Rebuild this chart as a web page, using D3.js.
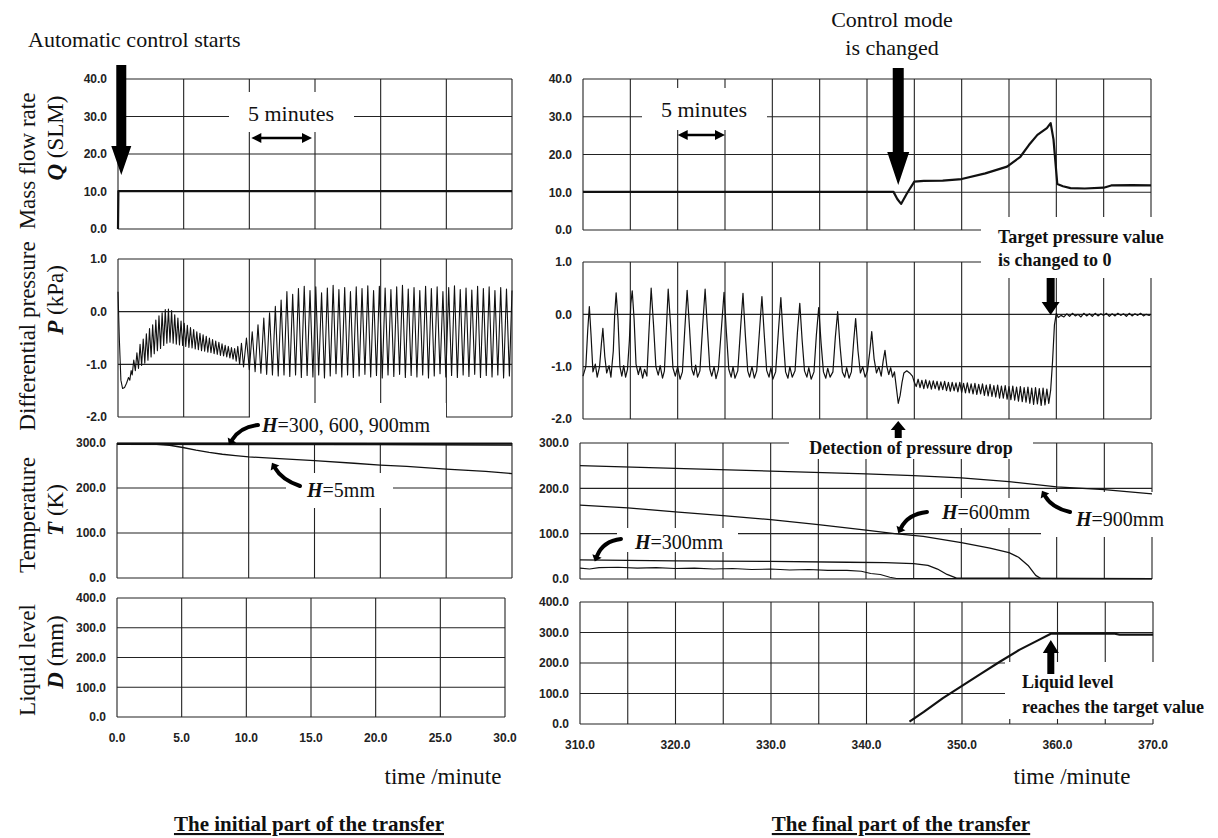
<!DOCTYPE html>
<html>
<head>
<meta charset="utf-8">
<script src="https://cdn.jsdelivr.net/npm/d3@7"></script>
<style>
  body { margin: 0; background: #fff; }
  svg { display: block; }
</style>
</head>
<body>
<svg id="chart" width="1218" height="838"></svg>
<script>
// ---------- data ----------
let leftTimeTicks = [0, 5, 10, 15, 20, 25, 30];
let rightTimeGrid = [310, 315, 320, 325, 330, 335, 340, 345, 350, 355, 360, 365, 370];
let rightTimeLabels = [310, 320, 330, 340, 350, 360, 370];
let qTicks = [0, 10, 20, 30, 40];
let pTicks = [-2, -1, 0, 1];
let tTicks = [0, 100, 200, 300];
let dTicks = [0, 100, 200, 300, 400];

// mass flow rate Q (SLM)
let qLeft = [[0, 0], [0.03, 10.1], [30, 10.1]];
let qRight = [[310, 10.1], [342.8, 10.1], [343.2, 8.2], [343.6, 6.9], [344.2, 9.6], [345.0, 12.8],
    [346, 13.0], [348, 13.1], [350, 13.5], [352.5, 15.0], [354.8, 16.8], [356.2, 19.4],
    [357.1, 22.5], [358.0, 25.2], [359.0, 27.0], [359.4, 28.3], [359.7, 24.0], [360.1, 12.2],
    [360.7, 11.6], [361.5, 11.1], [363, 11.0], [365, 11.2], [365.8, 11.8], [368, 11.9], [370, 11.8]];

// differential pressure P (kPa)
let pLeft = [[0, 0.38], [0.1, -0.5], [0.22, -1.3], [0.35, -1.46], [0.5, -1.44], [0.65, -1.36], [0.8, -1.25],
    [0.9, -1.3], [1.0, -1.12], [1.08, -1.2], [1.2, -0.92], [1.32, -1.12], [1.44, -0.78], [1.56, -1.08],
    [1.68, -0.62], [1.8, -1.02], [1.92, -0.52], [2.04, -0.98], [2.16, -0.42], [2.28, -0.92], [2.4, -0.32],
    [2.52, -0.86], [2.64, -0.25], [2.76, -0.8], [2.88, -0.16], [3.0, -0.74], [3.12, -0.08], [3.24, -0.7],
    [3.36, -0.02], [3.48, -0.64], [3.6, 0.04], [3.72, -0.6], [3.84, 0.05], [3.96, -0.58], [4.08, 0.02],
    [4.2, -0.6], [4.32, -0.06], [4.44, -0.62], [4.56, -0.12], [4.68, -0.63], [4.8, -0.18], [4.92, -0.64],
    [5.04, -0.22], [5.16, -0.66], [5.28, -0.26], [5.4, -0.68], [5.52, -0.3], [5.64, -0.69], [5.76, -0.34],
    [5.88, -0.71], [6.0, -0.38], [6.12, -0.72], [6.24, -0.41], [6.36, -0.74], [6.48, -0.44], [6.6, -0.75],
    [6.72, -0.47], [6.84, -0.77], [6.96, -0.5], [7.08, -0.78], [7.2, -0.53], [7.32, -0.8], [7.44, -0.56],
    [7.56, -0.81], [7.68, -0.58], [7.8, -0.83], [7.92, -0.61], [8.04, -0.84], [8.16, -0.64], [8.28, -0.86],
    [8.4, -0.66], [8.52, -0.88], [8.64, -0.68], [8.76, -0.9], [8.88, -0.7], [9.0, -0.94], [9.12, -0.66],
    [9.26, -1.0], [9.4, -0.6], [9.56, -1.05], [9.78, -0.5], [10.0, -1.1], [10.22, -0.38], [10.44, -1.14],
    [10.66, -0.25], [10.88, -1.17], [11.1, -0.12], [11.32, -1.19], [11.54, -0.02], [11.76, -1.2],
    [11.98, 0.1], [12.2, -1.22], [12.42, 0.22], [12.64, -1.2], [12.86, 0.38], [13.08, -1.23], [13.3, 0.33],
    [13.52, -1.2], [13.74, 0.44], [13.96, -1.25], [14.18, 0.48], [14.4, -1.21], [14.62, 0.4], [14.84, -1.24],
    [15.06, 0.47], [15.28, -1.2], [15.5, 0.36], [15.72, -1.26], [15.94, 0.45], [16.16, -1.22], [16.38, 0.5],
    [16.6, -1.18], [16.82, 0.42], [17.04, -1.24], [17.26, 0.46], [17.48, -1.2], [17.7, 0.38], [17.92, -1.25],
    [18.14, 0.47], [18.36, -1.22], [18.58, 0.44], [18.8, -1.19], [19.02, 0.49], [19.24, -1.24], [19.46, 0.4],
    [19.68, -1.21], [19.9, 0.48], [20.12, -1.26], [20.34, 0.45], [20.56, -1.2], [20.78, 0.42], [21.0, -1.23],
    [21.22, 0.47], [21.44, -1.19], [21.66, 0.5], [21.88, -1.25], [22.1, 0.43], [22.32, -1.21], [22.54, 0.46],
    [22.76, -1.24], [22.98, 0.4], [23.2, -1.2], [23.42, 0.48], [23.64, -1.26], [23.86, 0.44], [24.08, -1.22],
    [24.3, 0.47], [24.52, -1.18], [24.74, 0.38], [24.96, -1.24], [25.18, 0.46], [25.4, -1.21], [25.62, 0.49],
    [25.84, -1.25], [26.06, 0.42], [26.28, -1.2], [26.5, 0.45], [26.72, -1.23], [26.94, 0.41], [27.16, -1.19],
    [27.38, 0.48], [27.6, -1.25], [27.82, 0.44], [28.04, -1.21], [28.26, 0.47], [28.48, -1.24], [28.7, 0.4],
    [28.92, -1.2], [29.14, 0.46], [29.36, -1.26], [29.58, 0.43], [29.8, -1.22], [30.0, 0.4]];

let pRight = [[310.0, -1.18], [310.3, -1.0], [310.5, -0.3], [310.67, 0.15], [310.85, -0.4], [311.05, -1.1],
    [311.3, -0.95], [311.5, -1.2], [311.75, -1.0], [311.95, -0.55], [312.1, -0.27], [312.3, -0.8],
    [312.5, -1.12], [312.75, -0.98], [312.95, -1.2], [313.2, -0.7], [313.35, 0.0], [313.5, 0.41],
    [313.7, -0.1], [313.9, -1.0], [314.1, -1.18], [314.3, -0.98], [314.5, -1.2], [314.7, -1.05],
    [314.9, -0.5], [315.05, 0.2], [315.2, 0.45], [315.4, -0.1], [315.6, -0.95], [315.85, -1.15],
    [316.05, -1.0], [316.3, -1.22], [316.5, -1.05], [316.75, -1.18], [316.95, -0.4], [317.2, 0.5],
    [317.45, -0.2], [317.7, -1.0], [317.95, -1.16], [318.15, -0.98], [318.4, -1.22], [318.6, -1.08],
    [318.8, -0.3], [319.0, 0.48], [319.25, -0.2], [319.5, -1.02], [319.75, -1.18], [320.0, -1.0],
    [320.25, -1.24], [320.5, -1.1], [320.75, -0.3], [321.0, 0.46], [321.25, -0.25], [321.5, -1.05],
    [321.7, -1.16], [321.9, -0.97], [322.1, -1.2], [322.35, -1.08], [322.65, -0.2], [322.9, 0.48],
    [323.15, -0.3], [323.4, -1.05], [323.6, -1.18], [323.85, -1.0], [324.05, -1.23], [324.3, -1.05],
    [324.65, -0.2], [324.9, 0.42], [325.15, -0.35], [325.4, -1.05], [325.65, -1.2], [325.85, -1.0],
    [326.05, -1.22], [326.35, -1.08], [326.65, -0.25], [326.9, 0.4], [327.15, -0.4], [327.4, -1.08],
    [327.6, -1.2], [327.85, -1.0], [328.1, -1.22], [328.35, -1.08], [328.65, -0.3], [328.9, 0.34],
    [329.15, -0.4], [329.4, -1.07], [329.65, -1.2], [329.85, -1.02], [330.05, -1.24], [330.35, -1.1],
    [330.65, -0.3], [330.9, 0.32], [331.15, -0.45], [331.4, -1.1], [331.65, -1.22], [331.85, -1.0],
    [332.1, -1.2], [332.4, -1.08], [332.65, -0.35], [332.9, 0.21], [333.15, -0.5], [333.4, -1.08],
    [333.65, -1.2], [333.85, -1.02], [334.1, -1.24], [334.4, -1.1], [334.65, -0.4], [334.9, 0.13],
    [335.15, -0.55], [335.4, -1.1], [335.65, -1.22], [335.85, -1.03], [336.1, -1.2], [336.4, -1.1],
    [336.65, -0.45], [336.9, 0.05], [337.15, -0.6], [337.4, -1.1], [337.65, -1.2], [337.85, -1.02],
    [338.1, -1.22], [338.35, -1.1], [338.6, -0.5], [338.8, -0.08], [339.05, -0.7], [339.3, -1.12],
    [339.55, -1.0], [339.8, -1.2], [340.05, -1.08], [340.3, -0.7], [340.5, -0.33], [340.75, -0.85],
    [341.0, -1.12], [341.25, -1.0], [341.5, -1.18], [341.7, -0.9], [341.9, -0.69], [342.1, -1.0],
    [342.3, -1.15], [342.5, -1.02], [342.7, -1.2], [342.9, -1.1], [343.1, -1.4], [343.3, -1.7],
    [343.5, -1.55], [343.7, -1.3], [343.9, -1.12], [344.2, -1.08], [344.5, -1.12], [344.8, -1.18],
    [345.0, -1.3], [345.2, -1.38], [345.4, -1.24], [345.6, -1.4], [345.8, -1.26], [346.0, -1.42],
    [346.2, -1.25], [346.4, -1.41], [346.6, -1.27], [346.8, -1.43], [347.0, -1.27], [347.2, -1.42],
    [347.4, -1.28], [347.6, -1.45], [347.8, -1.29], [348.0, -1.44], [348.2, -1.28], [348.4, -1.46],
    [348.6, -1.3], [348.8, -1.47], [349.0, -1.3], [349.2, -1.46], [349.4, -1.31], [349.6, -1.48],
    [349.8, -1.3], [350.0, -1.49], [350.2, -1.32], [350.4, -1.5], [350.6, -1.31], [350.8, -1.5],
    [351.0, -1.33], [351.2, -1.52], [351.4, -1.32], [351.6, -1.53], [351.8, -1.34], [352.0, -1.52],
    [352.2, -1.33], [352.4, -1.55], [352.6, -1.35], [352.8, -1.56], [353.0, -1.34], [353.2, -1.57],
    [353.4, -1.36], [353.6, -1.58], [353.8, -1.35], [354.0, -1.6], [354.2, -1.37], [354.4, -1.6],
    [354.6, -1.36], [354.8, -1.62], [355.0, -1.38], [355.2, -1.63], [355.4, -1.37], [355.6, -1.64],
    [355.8, -1.39], [356.0, -1.66], [356.2, -1.38], [356.4, -1.67], [356.6, -1.4], [356.8, -1.68],
    [357.0, -1.39], [357.2, -1.7], [357.4, -1.41], [357.6, -1.72], [357.8, -1.4], [358.0, -1.71],
    [358.2, -1.42], [358.4, -1.74], [358.6, -1.41], [358.8, -1.73], [359.0, -1.43], [359.2, -1.7],
    [359.4, -1.45], [359.6, -0.9], [359.8, -0.2], [360.0, 0.02], [360.2, -0.06], [360.5, -0.02],
    [360.8, -0.05], [361.1, 0.01], [361.4, -0.04], [361.7, 0.02], [362.0, -0.03], [362.3, 0.0],
    [362.6, -0.05], [362.9, 0.02], [363.2, -0.03], [363.5, 0.01], [363.8, -0.04], [364.1, 0.02],
    [364.4, -0.03], [364.7, 0.01], [365.0, -0.02], [365.3, 0.02], [365.6, -0.04], [365.9, 0.01],
    [366.2, -0.03], [366.5, 0.02], [366.8, -0.02], [367.1, 0.01], [367.4, -0.04], [367.7, 0.02],
    [368.0, -0.03], [368.3, 0.01], [368.6, -0.02], [368.9, 0.02], [369.2, -0.03], [369.5, 0.0],
    [369.8, -0.02], [370.0, 0.0]];

// temperature T (K)
let tLeft300 = [[0, 299], [10, 299], [20, 298.5], [30, 298.5]];
let tLeft600 = [[0, 297], [10, 296.5], [20, 296], [30, 295]];
let tLeft900 = [[0, 298], [15, 297], [30, 296]];
let tLeft5 = [[0, 298], [3, 297], [4, 295], [5, 290], [6, 284], [7, 279], [8, 275], [9, 272], [10, 269],
    [12, 266], [15, 261], [18, 255], [20, 251], [22, 248], [25, 242], [28, 237], [30, 232]];

let tRight900 = [[310, 250], [320, 244], [330, 238], [340, 232], [345, 228], [350, 223], [355, 215],
    [360, 203], [365, 197], [370, 188]];
let tRight600 = [[310, 163], [315, 157], [320, 148], [325, 140], [330, 131], [335, 120], [340, 108],
    [343, 100], [346, 94], [350, 80], [353, 68], [355, 58], [356, 48], [357, 30], [357.8, 8],
    [358.3, 1.5], [370, 1]];
let tRight300 = [[310, 42], [320, 40], [330, 39], [338, 37], [342, 36], [345, 34], [346.5, 30],
    [347.5, 22], [348.5, 10], [349.5, 2], [370, 1]];
let tRightLow = [[310, 24], [311, 22], [312, 25], [314, 26], [316, 24], [318, 25], [320, 23], [322, 24],
    [324, 22], [326, 23], [328, 21], [330, 22], [332, 20], [334, 21], [336, 19], [338, 19], [339.5, 17],
    [340.5, 12], [341.5, 10], [342.5, 4], [343.2, 1], [370, 1]];

// liquid level D (mm)
let dRight = [[344.5, 8], [346, 40], [348, 85], [350, 125], [352, 165], [354, 205], [356, 243],
    [358, 275], [359.3, 296], [360, 296], [366, 296], [366.5, 293], [370, 293]];

// event times used by the annotation arrows
let startTime = 0.25;
let modeChangeTime = 343.3;
let targetZeroTime = 359.4;
let levelReachedTime = 359.3;

// ---------- drawing ----------
const SERIF = '"Liberation Serif", "Times New Roman", serif';
const SANS = '"Liberation Sans", Arial, sans-serif';

let svg = d3.select("#chart");
let gGrid = svg.append("g");
let gMask = svg.append("g");
let gData = svg.append("g");
let gText = svg.append("g");

function makePanel(x0, x1, y0, y1, xDomain, yDomain) {
    return {
        x: d3.scaleLinear().domain(xDomain).range([x0, x1]),
        y: d3.scaleLinear().domain(yDomain).range([y1, y0])
    };
}

let L = {
    Q: makePanel(118, 512, 79, 229, [0, 30], [0, 40]),
    P: makePanel(118, 512, 259, 417, [0, 30], [-2, 1]),
    T: makePanel(117, 512, 443, 578, [0, 30], [0, 300]),
    D: makePanel(117, 505, 598, 717, [0, 30], [0, 400])
};
let R = {
    Q: makePanel(583, 1151, 79, 230, [310, 370], [0, 40]),
    P: makePanel(583, 1151, 262, 419, [310, 370], [-2, 1]),
    T: makePanel(580, 1152, 443, 579, [310, 370], [0, 300]),
    D: makePanel(580, 1153, 602, 724, [310, 370], [0, 400])
};

function drawGrid(p, xGrid, yTicks) {
    let yr = p.y.range();
    let xr = p.x.range();
    xGrid.forEach(function (t) {
        gGrid.append("line")
            .attr("x1", p.x(t)).attr("x2", p.x(t))
            .attr("y1", yr[1]).attr("y2", yr[0])
            .attr("stroke", "#222").attr("stroke-width", 1.1);
    });
    yTicks.forEach(function (v) {
        gGrid.append("line")
            .attr("x1", xr[0]).attr("x2", xr[1])
            .attr("y1", p.y(v)).attr("y2", p.y(v))
            .attr("stroke", "#222").attr("stroke-width", 1.1);
        gText.append("text")
            .attr("x", xr[0] - 11)
            .attr("y", p.y(v))
            .attr("dy", "0.36em")
            .attr("text-anchor", "end")
            .attr("font-family", SANS)
            .attr("font-size", "12px")
            .attr("font-weight", "bold")
            .attr("fill", "#222")
            .text(v.toFixed(1));
    });
}

function drawTimeLabels(p, labels) {
    labels.forEach(function (t) {
        gText.append("text")
            .attr("x", p.x(t))
            .attr("y", p.y.range()[0] + 21)
            .attr("dy", "0.36em")
            .attr("text-anchor", "middle")
            .attr("font-family", SANS)
            .attr("font-size", "12px")
            .attr("font-weight", "bold")
            .attr("fill", "#222")
            .text(t.toFixed(1));
    });
}

[L.Q, L.P, L.T, L.D].forEach(function (p, i) {
    drawGrid(p, leftTimeTicks, [qTicks, pTicks, tTicks, dTicks][i]);
});
[R.Q, R.P, R.T, R.D].forEach(function (p, i) {
    drawGrid(p, rightTimeGrid, [qTicks, pTicks, tTicks, dTicks][i]);
});
drawTimeLabels(L.D, leftTimeTicks);
drawTimeLabels(R.D, rightTimeLabels);

// white boxes behind the annotations (they cut the grid like in the original)
let masks = [
    [229, 92, 125, 40], [642, 88, 125, 42],
    [250, 403, 196, 34], [286, 473, 107, 35],
    [981, 217, 190, 61], [789, 436, 244, 23],
    [933, 498, 104, 30], [1041, 492, 130, 45],
    [617, 528, 121, 24], [1005, 662, 210, 57]
];
masks.forEach(function (m) {
    gMask.append("rect").attr("x", m[0]).attr("y", m[1])
        .attr("width", m[2]).attr("height", m[3]).attr("fill", "#fff");
});

function drawSeries(p, data, width) {
    let line = d3.line()
        .x(function (d) { return p.x(d[0]); })
        .y(function (d) { return p.y(d[1]); });
    gData.append("path")
        .datum(data)
        .attr("d", line)
        .attr("fill", "none")
        .attr("stroke", "#111")
        .attr("stroke-width", width)
        .attr("stroke-linejoin", "round");
}

drawSeries(L.Q, qLeft, 2.2);
drawSeries(R.Q, qRight, 2.2);
drawSeries(L.P, pLeft, 1.1);
drawSeries(R.P, pRight, 1.2);
drawSeries(L.T, tLeft300, 1.3);
drawSeries(L.T, tLeft600, 1.1);
drawSeries(L.T, tLeft900, 1.1);
drawSeries(L.T, tLeft5, 1.3);
drawSeries(R.T, tRight900, 1.3);
drawSeries(R.T, tRight600, 1.3);
drawSeries(R.T, tRight300, 1.3);
drawSeries(R.T, tRightLow, 1.1);
drawSeries(R.D, dRight, 2.2);

// ---------- text helpers ----------
function label(x, y, parts, size, anchor, weight) {
    let t = gText.append("text")
        .attr("x", x).attr("y", y)
        .attr("text-anchor", anchor || "start")
        .attr("font-family", SERIF)
        .attr("font-size", size + "px")
        .attr("font-weight", weight || "normal")
        .attr("fill", "#111");
    parts.forEach(function (s) {
        if (typeof s === "string") {
            t.append("tspan").text(s);
        } else {
            t.append("tspan").attr("font-style", "italic").attr("font-weight", "bold").text(s.i);
        }
    });
    return t;
}

function yTitle(cx, cy, parts) {
    let t = gText.append("text")
        .attr("transform", "translate(" + cx + "," + cy + ") rotate(-90)")
        .attr("text-anchor", "middle")
        .attr("dy", "0.35em")
        .attr("font-family", SERIF)
        .attr("font-size", "23px")
        .attr("fill", "#111");
    parts.forEach(function (s) {
        if (typeof s === "string") {
            t.append("tspan").text(s);
        } else {
            t.append("tspan").attr("font-style", "italic").attr("font-weight", "bold").text(s.i);
        }
    });
}

function blockArrow(x, yTail, yTip, shaft, headW, headL) {
    let dir = yTip > yTail ? 1 : -1;
    let yHead = yTip - dir * headL;
    let pts = [[x - shaft / 2, yTail], [x + shaft / 2, yTail], [x + shaft / 2, yHead], [x + headW / 2, yHead],
        [x, yTip], [x - headW / 2, yHead], [x - shaft / 2, yHead]];
    gText.append("path").attr("d", "M" + pts.join("L") + "Z").attr("fill", "#000");
}

function hookArrow(tail, ctrl, tip) {
    gText.append("path")
        .attr("d", "M" + tail + "Q" + ctrl + " " + tip)
        .attr("fill", "none").attr("stroke", "#000")
        .attr("stroke-width", 4).attr("stroke-linecap", "round");
    let dx = tip[0] - ctrl[0], dy = tip[1] - ctrl[1];
    let len = Math.sqrt(dx * dx + dy * dy);
    let ux = dx / len, uy = dy / len;
    let bx = tip[0] + ux * 6, by = tip[1] + uy * 6;
    let h = [[bx, by], [tip[0] - uy * 5, tip[1] + ux * 5], [tip[0] + uy * 5, tip[1] - ux * 5]];
    gText.append("path").attr("d", "M" + h.join("L") + "Z").attr("fill", "#000");
}

function doubleArrow(xa, xb, y) {
    gText.append("line").attr("x1", xa + 6).attr("x2", xb - 6).attr("y1", y).attr("y2", y)
        .attr("stroke", "#000").attr("stroke-width", 2.5);
    gText.append("path").attr("d", "M" + [[xa, y], [xa + 10, y - 5], [xa + 10, y + 5]].join("L") + "Z");
    gText.append("path").attr("d", "M" + [[xb, y], [xb - 10, y - 5], [xb - 10, y + 5]].join("L") + "Z");
}

// ---------- axis titles ----------
yTitle(27, 161, ["Mass flow rate"]);
yTitle(55, 138, [{ i: "Q" }, " (SLM)"]);
yTitle(27, 336, ["Differential pressure"]);
yTitle(55, 300, [{ i: "P" }, " (kPa)"]);
yTitle(27, 515, ["Temperature"]);
yTitle(55, 510, [{ i: "T" }, " (K)"]);
yTitle(27, 660, ["Liquid level"]);
yTitle(55, 652, [{ i: "D" }, " (mm)"]);

label(443, 784, ["time /minute"], 23, "middle");
label(1072, 784, ["time /minute"], 23, "middle");
label(309, 831, ["The initial part of the transfer"], 21, "middle", "bold").attr("text-decoration", "underline");
label(901, 831, ["The final part of the transfer"], 21, "middle", "bold").attr("text-decoration", "underline");

// ---------- annotations ----------
label(28, 47, ["Automatic control starts"], 22);
blockArrow(L.Q.x(startTime), 65, 175, 10, 20, 29);

label(892, 27, ["Control mode"], 22, "middle");
label(892, 55, ["is changed"], 22, "middle");
blockArrow(R.Q.x(modeChangeTime), 68, 185, 11, 22, 33);

label(291, 121, ["5 minutes"], 22, "middle");
doubleArrow(L.Q.x(10) + 2, L.Q.x(15) - 3, 138);
label(704, 117, ["5 minutes"], 22, "middle");
doubleArrow(R.Q.x(320), R.Q.x(325), 135);

label(998, 243, ["Target pressure value"], 18, "start", "bold");
label(998, 266, ["is changed to 0"], 18, "start", "bold");
blockArrow(R.P.x(targetZeroTime), 278, 315, 8, 18, 13);

label(911, 454, ["Detection of pressure drop"], 18, "middle", "bold");
blockArrow(R.P.x(modeChangeTime), 438, 421, 7, 15, 9);

label(1022, 688, ["Liquid level"], 18, "start", "bold");
label(1022, 713, ["reaches the target value"], 18, "start", "bold");
blockArrow(R.D.x(levelReachedTime), 674, 640, 7, 16, 13);

label(262, 432, [{ i: "H" }, "=300, 600, 900mm"], 20);
hookArrow([258, 425], [240, 427], [232, 440]);

label(307, 497, [{ i: "H" }, "=5mm"], 20);
hookArrow([300, 486], [282, 480], [275, 468]);

label(942, 519, [{ i: "H" }, "=600mm"], 20);
hookArrow([927, 512], [908, 514], [901, 528]);

label(1076, 526, [{ i: "H" }, "=900mm"], 20);
hookArrow([1070, 512], [1052, 508], [1045, 496]);

label(635, 549, [{ i: "H" }, "=300mm"], 20);
hookArrow([621, 539], [603, 541], [597, 556]);
</script>
</body>
</html>
